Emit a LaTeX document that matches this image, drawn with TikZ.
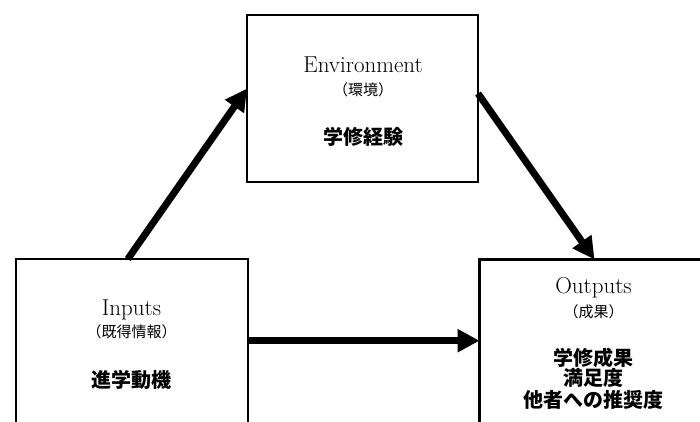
\documentclass[tikz,border=0pt]{standalone}
\usepackage{fontspec}
\newfontfamily\cjk{Noto Sans CJK JP}
\usetikzlibrary{arrows.meta}
\tikzset{
  box/.style={draw, line width=2.6pt, rectangle, inner sep=0pt, outer sep=0pt},
  bigarrow/.style={line width=7pt, -{Triangle[length=22pt,width=22pt]}},
  latin/.style={anchor=base, inner sep=0pt, font=\fontsize{23}{26}\selectfont},
  jpl/.style={anchor=base, inner sep=0pt, font=\cjk\fontsize{15}{18}\selectfont},
  jpb/.style={anchor=base, inner sep=0pt, font=\cjk\bfseries\fontsize{20}{22}\selectfont},
}
\begin{document}
\begin{tikzpicture}[x=1pt,y=-1pt]
\useasboundingbox (0,0) rectangle (700,421);
% boxes
\node[box, minimum width=231pt, minimum height=167pt] (env) at (362.5,98.5) {};
\node[box, minimum width=232pt, minimum height=182pt] (inp) at (131.8,350) {};
\node[box, minimum width=240pt, minimum height=180pt] (out) at (599.5,349.5) {};
% texts
\node[latin] (envt) at (363,72.7) {Environment};
\node[jpl] (envj) at (363,95) {（環境）};
\node[jpb] (envb) at (363,144) {学修経験};
\node[latin] (inpt) at (131.5,315) {Inputs};
\node[jpl] (inpj) at (131.5,337.5) {（既得情報）};
\node[jpb] (inpb) at (131.5,387.5) {進学動機};
\node[latin] (outt) at (593.5,293) {Outputs};
\node[jpl] (outj) at (593.5,317.5) {（成果）};
\node[jpb] (outb1) at (593.5,365) {学修成果};
\node[jpb] (outb2) at (593.5,385.5) {満足度};
\node[jpb] (outb3) at (593.5,407.5) {他者への推奨度};
% arrows
\coordinate (a1s) at ([xshift=112pt]inp.north west);
\coordinate (a1e) at ([yshift=10pt]env.west);
\draw[bigarrow] (a1s) -- (a1e);
\coordinate (a2s) at ([yshift=5pt]env.east);
\coordinate (a2e) at ([xshift=115pt]out.north west);
\draw[bigarrow] (a2s) -- (a2e);
\coordinate (a3s) at ([yshift=9.3pt]inp.east);
\draw[bigarrow] (a3s) -- (a3s -| out.west);
\end{tikzpicture}
\end{document}
